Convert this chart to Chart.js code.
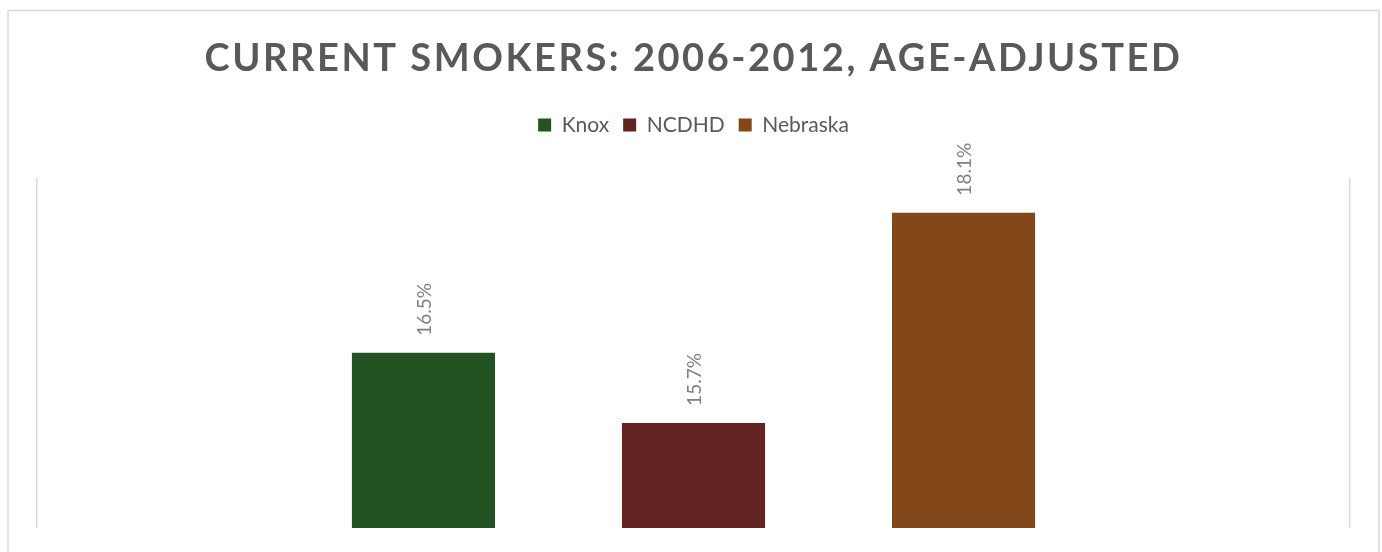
<!DOCTYPE html>
<html>
<head>
<meta charset="utf-8">
<script src="https://cdn.jsdelivr.net/npm/chart.js@4/dist/chart.umd.min.js"></script>
<style>
  html, body { margin: 0; padding: 0; background: #ffffff; }
  #wrap { position: relative; width: 1382px; height: 552px; }
</style>
</head>
<body>
<div id="wrap"><canvas id="c" width="1382" height="552"></canvas></div>
<script>
const categories = ['Current Smokers'];
const seriesNames = ['Knox', 'NCDHD', 'Nebraska'];
const knoxValues = [16.5];
const ncdhdValues = [15.7];
const nebraskaValues = [18.1];
const seriesColors = ['#235223', '#632320', '#834819'];
const titleText = 'CURRENT SMOKERS: 2006-2012, AGE-ADJUSTED';

// letter-spaced title
const TitleEl = Chart.Title._element;
const origTitleDraw = TitleEl.prototype.draw;
TitleEl.prototype.draw = function() {
  const ctx = this.ctx;
  ctx.save();
  ctx.letterSpacing = '2.55px';
  origTitleDraw.call(this);
  ctx.restore();
};

const frame = {
  id: 'frame',
  beforeDraw(chart) {
    const ctx = chart.ctx;
    ctx.save();
    ctx.fillStyle = '#ffffff';
    ctx.fillRect(0, 0, chart.width, chart.height);
    ctx.strokeStyle = '#d9d9d9';
    ctx.lineWidth = 1.5;
    ctx.strokeRect(8, 10.5, 1371, 560);
    ctx.restore();
  }
};

const legendSpace = {
  id: 'legendSpace',
  beforeInit(chart) {
    const fit = chart.legend.fit;
    chart.legend.fit = function() {
      fit.call(this);
      this.height += 32;
    };
  }
};

const valueLabels = {
  id: 'valueLabels',
  afterDatasetsDraw(chart) {
    const ctx = chart.ctx;
    ctx.save();
    ctx.font = '19px Lato';
    ctx.fillStyle = '#808080';
    ctx.textAlign = 'left';
    ctx.textBaseline = 'middle';
    chart.data.datasets.forEach((ds, i) => {
      const meta = chart.getDatasetMeta(i);
      meta.data.forEach((bar, j) => {
        const v = ds.data[j];
        ctx.save();
        ctx.translate(bar.x + 1, bar.y - 17);
        ctx.rotate(-Math.PI / 2);
        ctx.fillText(v.toFixed(1) + '%', 0, 0);
        ctx.restore();
      });
    });
    ctx.restore();
  }
};

new Chart(document.getElementById('c'), {
  type: 'bar',
  data: {
    labels: categories,
    datasets: [
      { label: seriesNames[0], data: knoxValues, backgroundColor: seriesColors[0] },
      { label: seriesNames[1], data: ncdhdValues, backgroundColor: seriesColors[1] },
      { label: seriesNames[2], data: nebraskaValues, backgroundColor: seriesColors[2] }
    ]
  },
  options: {
    responsive: false,
    animation: false,
    devicePixelRatio: 1,
    categoryPercentage: 0.617,
    barPercentage: 0.53,
    layout: { padding: { left: 37, right: 32, top: 0, bottom: 24 } },
    plugins: {
      title: {
        display: true,
        text: titleText,
        color: '#595959',
        font: { family: 'Lato', size: 38, weight: 'bold' },
        padding: { top: 36, bottom: 19 }
      },
      legend: {
        display: true,
        position: 'top',
        labels: {
          color: '#595959',
          font: { family: 'Lato', size: 21 },
          boxWidth: 13,
          boxHeight: 13,
          padding: 14
        }
      },
      tooltip: { enabled: false }
    },
    scales: {
      x: {
        display: true,
        offset: true,
        ticks: { display: false },
        grid: { display: true, offset: true, color: '#d9d9d9', lineWidth: 1.5, drawTicks: false },
        border: { display: false }
      },
      y: {
        display: false,
        min: 14.5,
        max: 18.5
      }
    }
  },
  plugins: [frame, legendSpace, valueLabels]
});
</script>
</body>
</html>
